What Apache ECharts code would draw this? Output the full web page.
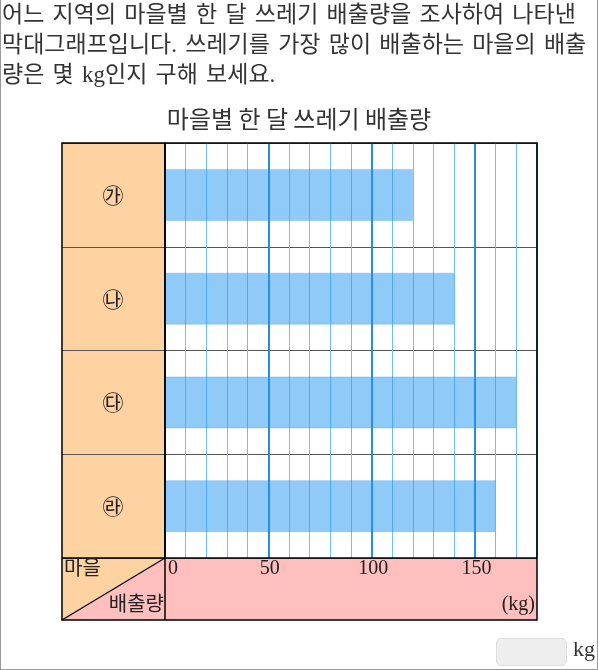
<!DOCTYPE html>
<html>
<head>
<meta charset="utf-8">
<script src="https://cdn.jsdelivr.net/npm/echarts@6/dist/echarts.min.js"></script>
<style>
  html, body { margin: 0; padding: 0; background: #fff; }
  #frame { position: absolute; left: 0; top: 0; width: 598px; height: 670px; box-sizing: border-box;
           border-left: 1px solid #999; border-right: 1px solid #999; border-bottom: 1px solid #999; }
  #chart { position: absolute; left: 0; top: 0; width: 598px; height: 670px; }
  #q { position: absolute; left: 2px; top: 0px; width: 590px; font-family: "Liberation Serif", "Noto Sans CJK KR", serif;
       font-size: 23px; line-height: 30px; color: #333; letter-spacing: 0px; word-spacing: 2.5px; word-break: break-all; z-index: 5; }
  #ans { position: absolute; left: 496px; top: 638px; width: 71px; height: 28px; box-sizing: border-box;
         background: #eee; border: 1px solid #ddd; border-radius: 5px; z-index: 5; }
  #unit { position: absolute; left: 573px; top: 636px; font-family: "Liberation Serif", serif; font-size: 22px; color: #333; z-index: 5; }
</style>
</head>
<body>
<div id="chart"></div>
<div id="frame"></div>
<div id="q">어느 지역의 마을별 한 달 쓰레기 배출량을 조사하여 나타낸 막대그래프입니다. 쓰레기를 가장 많이 배출하는 마을의 배출량은 몇 kg인지 구해 보세요.</div>
<div id="ans"></div>
<div id="unit">kg</div>
<script>
const titleText = '마을별 한 달 쓰레기 배출량';
const categories = ['㉮', '㉯', '㉰', '㉱'];
const values = [120, 140, 170, 160];
const unitLabel = '(kg)';
const cornerTop = '마을';
const cornerBottom = '배출량';

const chart = echarts.init(document.getElementById('chart'), null, { renderer: 'canvas' });
const orange = '#FFD3A1';
const pink = '#FFBFBF';
const serif = '"Liberation Serif", "Noto Sans CJK KR", serif';
const kfont = '"Noto Sans CJK KR", sans-serif';

chart.setOption({
  animation: false,
  backgroundColor: 'transparent',
  title: {
    text: titleText, left: 'center', top: 102,
    textStyle: { fontFamily: kfont, fontSize: 24, fontWeight: 'normal', color: '#333' }
  },
  grid: { left: 165, top: 143, width: 372, height: 415, containLabel: false },
  xAxis: [
    {
      type: 'value', min: 0, max: 180, interval: 10, position: 'bottom',
      axisLine: { show: false }, axisTick: { show: false }, axisLabel: { show: false },
      splitLine: { show: true, lineStyle: { color: '#74C0F4', width: 1 } }
    },
    {
      type: 'value', min: 0, max: 180, interval: 50, position: 'bottom',
      axisLine: { show: false }, axisTick: { show: false },
      axisLabel: {
        show: true, margin: 1, fontFamily: serif, fontSize: 20, color: '#222',
        showMaxLabel: false, alignMinLabel: 'left', padding: [0, 0, 0, 3],
        formatter: v => (v % 50 === 0 && v < 180) ? String(v) : ''
      },
      splitLine: { show: true, lineStyle: { color: '#2A8DDB', width: 2 } }
    }
  ],
  yAxis: {
    type: 'category', data: categories, inverse: true,
    axisLine: { show: true, lineStyle: { color: '#000', width: 1.5 } },
    axisTick: { show: true, length: 103, lineStyle: { color: '#555', width: 1 } },
    axisLabel: { margin: 52, align: 'center', fontFamily: kfont, fontSize: 21, color: '#222' },
    splitLine: { show: true, lineStyle: { color: '#555', width: 1 } }
  },
  series: [{
    type: 'bar', xAxisIndex: 0, data: values, barWidth: 52,
    itemStyle: { color: 'rgba(33,150,243,0.5)', borderColor: 'rgba(33,150,243,0.25)', borderWidth: 1 },
    z: 2
  }],
  graphic: [
    { type: 'rect', z: -10, shape: { x: 62, y: 143, width: 103, height: 415 }, style: { fill: orange } },
    { type: 'rect', z: -10, shape: { x: 165, y: 558, width: 372, height: 62 }, style: { fill: pink } },
    { type: 'polygon', z: -10, shape: { points: [[62, 558], [165, 558], [62, 620]] }, style: { fill: orange } },
    { type: 'polygon', z: -10, shape: { points: [[165, 558], [165, 620], [62, 620]] }, style: { fill: pink } },
    { type: 'line', z: 100, shape: { x1: 62, y1: 620, x2: 165, y2: 558 }, style: { stroke: '#000', lineWidth: 1.2 } },
    { type: 'line', z: 100, shape: { x1: 62, y1: 558, x2: 537, y2: 558 }, style: { stroke: '#000', lineWidth: 1.5 } },
    { type: 'line', z: 100, shape: { x1: 165, y1: 143, x2: 165, y2: 620 }, style: { stroke: '#000', lineWidth: 1.5 } },
    { type: 'rect', z: 100, shape: { x: 62, y: 143, width: 475, height: 477 }, style: { fill: 'none', stroke: '#000', lineWidth: 1.5 } },
    { type: 'text', z: 100, left: 64, top: 557, style: { text: cornerTop, font: '20px ' + kfont, fill: '#222' } },
    { type: 'text', z: 100, right: 598 - 164, top: 593, style: { text: cornerBottom, font: '20px ' + kfont, fill: '#222', textAlign: 'right' } },
    { type: 'text', z: 100, right: 598 - 535, top: 595, style: { text: unitLabel, font: '20px ' + serif, fill: '#222', textAlign: 'right' } }
  ]
});
</script>
</body>
</html>
